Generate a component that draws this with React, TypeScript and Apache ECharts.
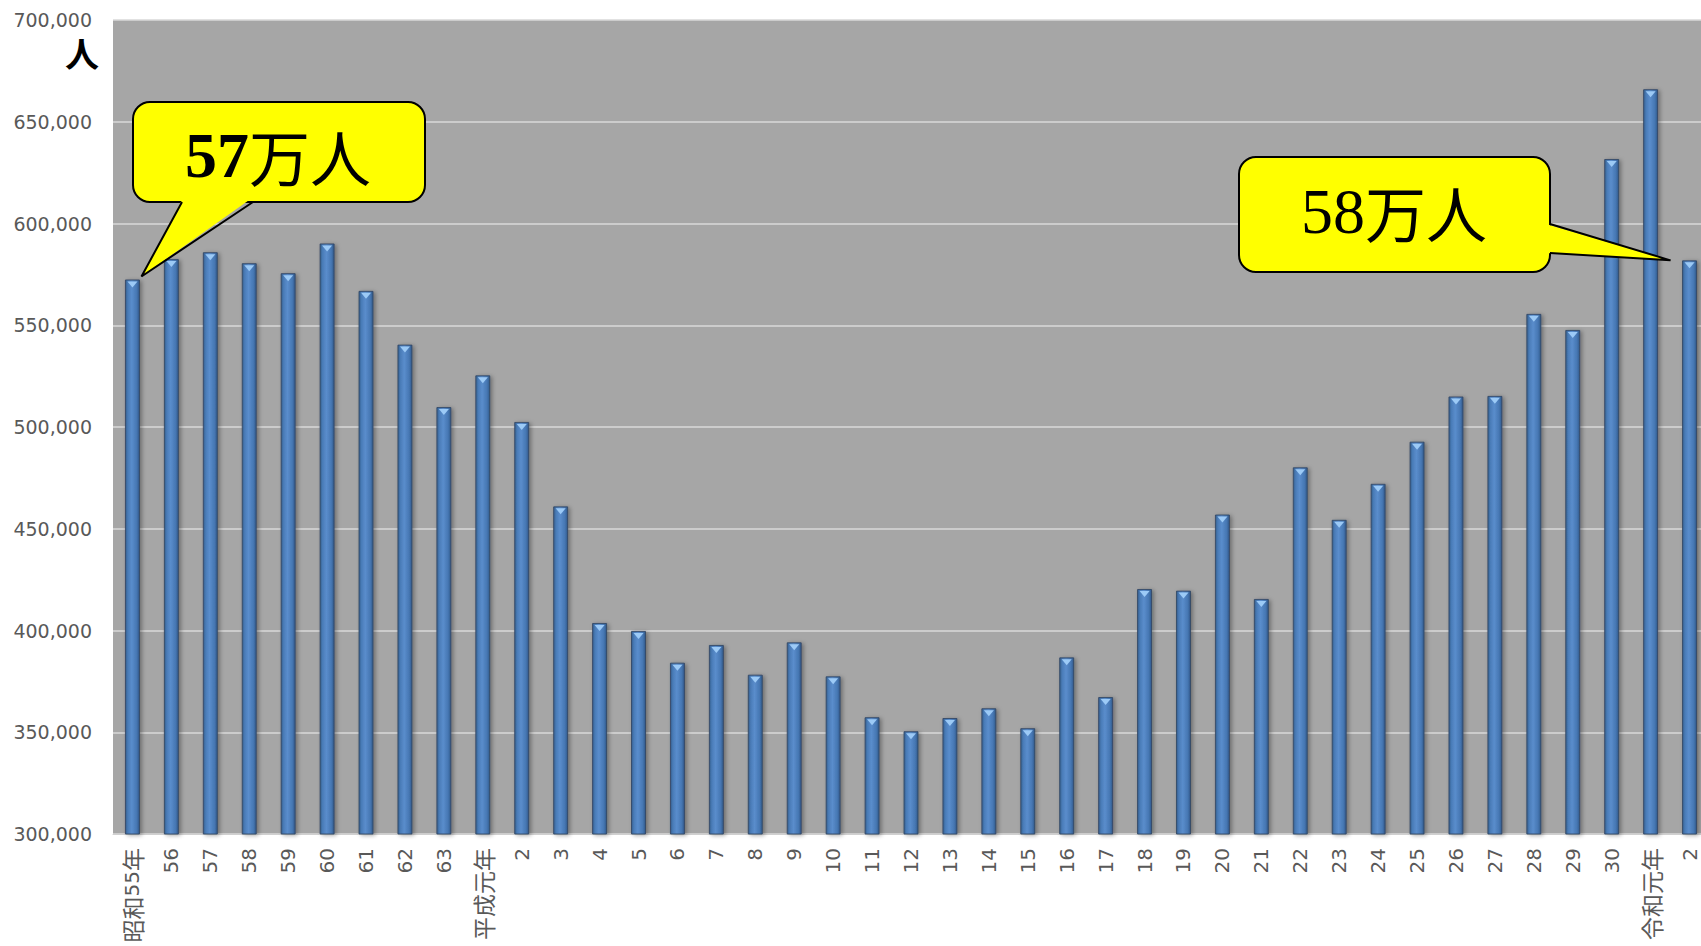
import React, { useEffect, useRef } from "react";
import * as echarts from "echarts";

// Year labels by era
const showaYears = ["昭和55年", "56", "57", "58", "59", "60", "61", "62", "63"];
const heiseiYears = [
  "平成元年", "2", "3", "4", "5", "6", "7", "8", "9", "10",
  "11", "12", "13", "14", "15", "16", "17", "18", "19", "20",
  "21", "22", "23", "24", "25", "26", "27", "28", "29", "30",
];
const reiwaYears = ["令和元年", "2"];

// Persons per year
const showaValues = [572500, 582500, 585900, 580500, 575600, 590200, 566900, 540500, 509800];
const heiseiValues = [
  525400, 502500, 461000, 403700, 399800, 384200, 392900, 378300, 394200, 377500,
  357400, 350500, 357000, 361800, 352000, 386800, 367300, 420400, 419600, 457000,
  415500, 480200, 454400, 472100, 492800, 515000, 515300, 555600, 547700, 631700,
];
const reiwaValues = [666000, 581900];

// Value axis range
const yMin = 300000;
const yMax = 700000;
const yStep = 50000;

// Callout texts
const firstCallout = { num: "57", unit: "万人", index: 0 };
const lastCallout = { num: "58", unit: "万人", index: 40 };

const categories = [...showaYears, ...heiseiYears, ...reiwaYears];
const values = [...showaValues, ...heiseiValues, ...reiwaValues];

const YELLOW = "#FFFF00";

// wrap runs of CJK characters so they can be sized separately from digits
const splitCjk = (s: string) =>
  s.replace(/([^\x00-\x7F]+)/g, "{c|$1}").replace(/(^|\})([\x00-\x7F]+)(?=\{|$)/g, "$1{d|$2}");

export default function App() {
  const ref = useRef<HTMLDivElement | null>(null);

  useEffect(() => {
    document.body.style.margin = "0";
    document.body.style.overflow = "hidden";
    if (!ref.current) return;
    const chart = echarts.init(ref.current, undefined, { renderer: "svg" });

    chart.setOption({
      animation: false,
      backgroundColor: "#ffffff",
      grid: {
        left: 113,
        right: 3,
        top: 20,
        bottom: 112,
        show: true,
        backgroundColor: "#A6A6A6",
        borderWidth: 0,
      },
      xAxis: {
        type: "category",
        data: categories,
        boundaryGap: true,
        axisTick: { show: false },
        axisLine: { show: true, lineStyle: { color: "#d0d0d0", width: 1 } },
        axisLabel: {
          interval: 0,
          rotate: 90,
          margin: 14,
          color: "#595959",
          formatter: (v: string) => splitCjk(v),
          rich: {
            d: {
              fontSize: 20,
              color: "#595959",
              fontFamily: "'DejaVu Sans', sans-serif",
            },
            c: {
              fontSize: 23,
              color: "#595959",
              fontFamily: "'Noto Sans CJK JP', sans-serif",
            },
          },
        },
      },
      yAxis: {
        type: "value",
        min: yMin,
        max: yMax,
        interval: yStep,
        axisLine: { show: false },
        axisTick: { show: false },
        axisLabel: {
          margin: 21,
          fontSize: 19,
          color: "#595959",
          fontFamily: "'DejaVu Sans', sans-serif",
          formatter: (v: number) => v.toLocaleString("en-US"),
        },
        splitLine: { show: true, lineStyle: { color: "#d9d9d9", width: 1.5 } },
      },
      series: [
        {
          type: "bar",
          data: values,
          barWidth: 15,
          itemStyle: {
            color: new echarts.graphic.LinearGradient(0, 0, 1, 0, [
              { offset: 0, color: "#35608f" },
              { offset: 0.18, color: "#4a7cb8" },
              { offset: 0.45, color: "#5a8dcc" },
              { offset: 0.8, color: "#4677b3" },
              { offset: 1, color: "#31598a" },
            ]),
            borderColor: "rgba(50,70,100,0.85)",
            borderWidth: 1,
            shadowColor: "rgba(0,0,0,0.35)",
            shadowBlur: 4,
            shadowOffsetX: 2,
            shadowOffsetY: 1,
          },
        },
        {
          // bevelled cap on top of each bar
          type: "scatter",
          data: values,
          symbol: "triangle",
          symbolRotate: 180,
          symbolSize: [10, 6],
          symbolOffset: [0, 5],
          z: 5,
          itemStyle: { color: "#9ccaf6", opacity: 1 },
          silent: true,
        },
      ],
    });

    const p1 = chart.convertToPixel({ gridIndex: 0 }, [firstCallout.index, values[firstCallout.index]]) as number[];
    const p2 = chart.convertToPixel({ gridIndex: 0 }, [lastCallout.index, values[lastCallout.index]]) as number[];
    const tip1 = [p1[0] + 9, p1[1] - 3];
    const tip2 = [p2[0] - 19, p2[1]];

    const richStyle = (bold: boolean) => ({
      n: {
        fontFamily: "'Liberation Serif', 'Times New Roman', serif",
        fontWeight: bold ? "bold" : "normal",
        fontSize: 64,
        fill: "#000",
      },
      u: {
        fontFamily: "'Noto Sans CJK JP', sans-serif",
        fontWeight: "normal",
        fontSize: 61,
        fill: "#000",
      },
    });

    chart.setOption({
      graphic: [
        {
          type: "text",
          x: 82,
          y: 52,
          z: 100,
          style: {
            text: "人",
            fontSize: 34,
            fontFamily: "'Noto Sans CJK JP', sans-serif",
            fontWeight: "bold",
            fill: "#000",
            align: "center",
            verticalAlign: "middle",
          },
        },
        // first callout
        {
          type: "rect",
          z: 100,
          shape: { x: 133, y: 102, width: 292, height: 100, r: 17 },
          style: { fill: YELLOW, stroke: "#000", lineWidth: 2 },
        },
        {
          type: "polygon",
          z: 101,
          shape: { points: [[183, 198], [252, 198], tip1] },
          style: { fill: YELLOW },
        },
        {
          type: "polyline",
          z: 102,
          shape: { points: [[182, 202], tip1, [253, 202]] },
          style: { stroke: "#000", lineWidth: 2, fill: null },
        },
        {
          type: "text",
          x: 278,
          y: 155,
          z: 103,
          style: {
            text: `{n|${firstCallout.num}}{u|${firstCallout.unit}}`,
            rich: richStyle(true),
            align: "center",
            verticalAlign: "middle",
          },
        },
        // last callout
        {
          type: "rect",
          z: 100,
          shape: { x: 1239, y: 157, width: 311, height: 115, r: 17 },
          style: { fill: YELLOW, stroke: "#000", lineWidth: 2 },
        },
        {
          type: "polygon",
          z: 101,
          shape: { points: [[1546, 224], [1546, 253], tip2] },
          style: { fill: YELLOW },
        },
        {
          type: "polyline",
          z: 102,
          shape: { points: [[1550, 224], tip2, [1550, 253]] },
          style: { stroke: "#000", lineWidth: 2, fill: null },
        },
        {
          type: "text",
          x: 1394,
          y: 211,
          z: 103,
          style: {
            text: `{n|${lastCallout.num}}{u|${lastCallout.unit}}`,
            rich: richStyle(false),
            align: "center",
            verticalAlign: "middle",
          },
        },
      ],
    });

    return () => chart.dispose();
  }, []);

  return <div ref={ref} style={{ width: 1712, height: 946 }} />;
}
